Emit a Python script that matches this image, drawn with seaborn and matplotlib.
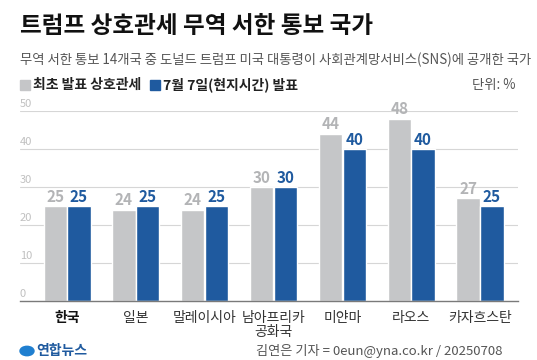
import matplotlib
matplotlib.use("Agg")
import matplotlib.pyplot as plt
import matplotlib.transforms as mtransforms
import seaborn as sns
import pandas as pd

countries = ["한국", "일본", "말레이시아", "남아프리카\n공화국", "미얀마", "라오스", "카자흐스탄"]
first_rate = [25, 24, 24, 30, 44, 48, 27]
july_rate = [25, 25, 25, 30, 40, 40, 25]
series_names = ["최초 발표 상호관세", "7월 7일(현지시간) 발표"]
yticks = [0, 10, 20, 30, 40, 50]

GREY = "#c5c6c8"
BLUE = "#1f5a9f"
LABEL_GREY = "#b3b4b6"

sns.set_theme(style="white")
plt.rcParams["font.family"] = ["Noto Sans CJK KR", "DejaVu Sans"]

df = pd.DataFrame({
    "country": countries * 2,
    "rate": first_rate + july_rate,
    "series": [series_names[0]] * len(countries) + [series_names[1]] * len(countries),
})

fig = plt.figure(figsize=(5.37, 3.6), dpi=100)
W, H = 537, 360
ax = fig.add_axes([20 / W, 1 - 301 / H, (518 - 20) / W, (301 - 111) / H])

sns.barplot(data=df, x="country", y="rate", hue="series", order=countries,
            hue_order=series_names, palette=[GREY, BLUE], width=0.69, gap=0.02,
            legend=False, ax=ax, saturation=1, zorder=3)

ax.set_xlim(-0.683, len(countries) - 1 + 0.552)
ax.set_ylim(0, 50)
ax.set_xlabel("")
ax.set_ylabel("")
for s in ["top", "right", "left"]:
    ax.spines[s].set_visible(False)
ax.spines["bottom"].set_color("#7a7a7a")
ax.spines["bottom"].set_linewidth(1.0)
ax.spines["bottom"].set_zorder(5)

ax.set_yticks(yticks)
ax.set_yticklabels([])
ax.tick_params(axis="y", length=0)
for v in yticks[1:]:
    ax.axhline(v, color="#d6d6d6", lw=0.8, zorder=1)
trans = mtransforms.blended_transform_factory(ax.transAxes, ax.transData)
for v in yticks:
    ax.text(0.0, v + 0.6, str(v), transform=trans, ha="left", va="bottom",
            fontsize=8, color="#c0c0c0", zorder=2)

# value labels
for container, color in zip(ax.containers, [LABEL_GREY, BLUE]):
    ax.bar_label(container, fmt="%d", padding=1, fontsize=11, color=color,
                 fontweight="bold", clip_on=False)

ax.tick_params(axis="x", length=0, pad=7)
ax.set_xticks(range(len(countries)))
ax.set_xticklabels(countries, fontsize=10, color="#333333", linespacing=1.0)
for i, lab in enumerate(ax.get_xticklabels()):
    lab.set_va("top")
    if i == 0:
        lab.set_fontweight("bold")
        lab.set_color("#111111")

# title & subtitle
fig.text(20 / W, 1 - 26 / H, "트럼프 상호관세 무역 서한 통보 국가", fontsize=17,
         fontweight="bold", color="#111111", ha="left", va="center")
fig.text(20 / W, 1 - 60 / H,
         "무역 서한 통보 14개국 중 도널드 트럼프 미국 대통령이 사회관계망서비스(SNS)에 공개한 국가",
         fontsize=9.6, color="#555555", ha="left", va="center")

# legend
ly = 1 - 85 / H
fig.patches.append(plt.Rectangle((20 / W, ly - 5 / H), 10 / W, 10 / H,
                                 transform=fig.transFigure, color=GREY))
fig.text(33 / W, ly, series_names[0], fontsize=10, fontweight="bold",
         color="#222222", ha="left", va="center")
fig.patches.append(plt.Rectangle((150 / W, ly - 5 / H), 10 / W, 10 / H,
                                 transform=fig.transFigure, color=BLUE))
fig.text(163 / W, ly, series_names[1], fontsize=10, fontweight="bold",
         color="#222222", ha="left", va="center")
fig.text(515 / W, ly, "단위: %", fontsize=9.6, color="#555555",
         ha="right", va="center")

# footer
fig.text(36 / W, 1 - 351 / H, "연합뉴스", fontsize=10, fontweight="bold",
         color="#1f5a9f", ha="left", va="center")
fig.patches.append(plt.Circle((27 / W, 1 - 351 / H), 7 / W,
                              transform=fig.transFigure, color="#1f7fd0"))
fig.text(502 / W, 1 - 351 / H, "김연은 기자 = 0eun@yna.co.kr / 20250708",
         fontsize=9.5, color="#555555", ha="right", va="center")

fig.savefig("out.png", dpi=100)
